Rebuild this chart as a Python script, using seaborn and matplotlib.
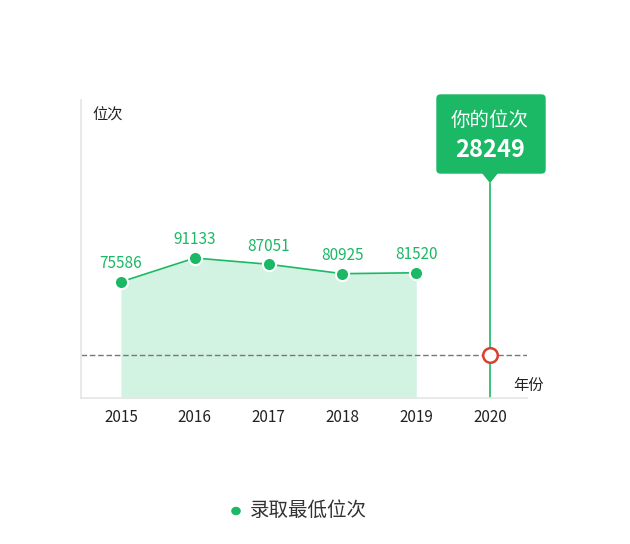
import matplotlib.pyplot as plt
import seaborn as sns
import pandas as pd
from matplotlib.patches import FancyBboxPatch, Polygon

years = ["2015", "2016", "2017", "2018", "2019", "2020"]
hist_years = ["2015", "2016", "2017", "2018", "2019"]
min_rank = [75586, 91133, 87051, 80925, 81520]
my_rank = 28249

GREEN = "#1bb865"
FILL = "#d3f3e2"

sns.set_theme(style="white")
plt.rcParams["font.family"] = ["Noto Sans CJK SC", "DejaVu Sans"]

fig = plt.figure(figsize=(6.3, 5.44), dpi=100)
ax = fig.add_axes([0.1286, 0.2684, 0.708, 0.5478])

df = pd.DataFrame({"year": hist_years, "rank": min_rank})
df["x"] = [years.index(y) for y in df["year"]]

ax.fill_between(df["x"], df["rank"], color=FILL, lw=0, zorder=1)
sns.lineplot(data=df, x="x", y="rank", ax=ax, color=GREEN, lw=1.2, zorder=2)
sns.scatterplot(data=df, x="x", y="rank", ax=ax, color=GREEN, s=90,
                edgecolor="white", linewidth=1.5, zorder=3)
for xi, v in zip(df["x"], df["rank"]):
    ax.annotate(str(v), (xi, v), xytext=(0, 7), textcoords="offset points",
                ha="center", va="bottom", color=GREEN, fontsize=11)

x_me = years.index("2020")
ax.axhline(my_rank, color="#777777", lw=1, ls=(0, (4, 2)), zorder=1)
ax.plot([x_me, x_me], [0, 140000], color=GREEN, lw=1.2, zorder=2)
ax.scatter([x_me], [my_rank], s=110, facecolor="white", edgecolor="#d9402f",
           linewidth=1.8, zorder=4)

ax.set_xlim(-0.54, 5.5)
ax.set_ylim(0, 194000)
ax.set_xticks(range(len(years)))
ax.set_xticklabels(years, fontsize=11, color="#222222")
ax.set_yticks([])
ax.tick_params(axis="x", length=0, pad=8)
ax.set_xlabel("")
ax.set_ylabel("")
for s in ["top", "right"]:
    ax.spines[s].set_visible(False)
for s in ["left", "bottom"]:
    ax.spines[s].set_color("#e6e6e6")

fig.text(92 / 630, 1 - 115 / 544, "位次", fontsize=11, color="#222222", va="center")
fig.text(513 / 630, 1 - 385 / 544, "年份", fontsize=11, color="#222222", va="center")

# tooltip box
box = FancyBboxPatch((437 / 630, 1 - 173 / 544), 108 / 630, 78 / 544,
                     boxstyle="round,pad=0,rounding_size=0.006",
                     transform=fig.transFigure, color=GREEN, zorder=5)
fig.patches.append(box)
tri = Polygon([(482 / 630, 1 - 172 / 544), (498 / 630, 1 - 172 / 544),
               (490 / 630, 1 - 182 / 544)], closed=True,
              transform=fig.transFigure, color=GREEN, zorder=5)
fig.patches.append(tri)
fig.text(490 / 630, 1 - 120 / 544, "你的位次", fontsize=14, color="white",
         ha="center", va="center", zorder=6)
fig.text(490 / 630, 1 - 150 / 544, str(my_rank), fontsize=17, color="white",
         ha="center", va="center", weight="bold", zorder=6)

# legend
fig.patches.append(plt.Circle((236 / 630, 1 - 511 / 544), 0.0065,
                              transform=fig.transFigure, color=GREEN))
fig.text(250 / 630, 1 - 510 / 544, "录取最低位次", fontsize=14, color="#333333",
         va="center")

fig.savefig("out.png", dpi=100)
